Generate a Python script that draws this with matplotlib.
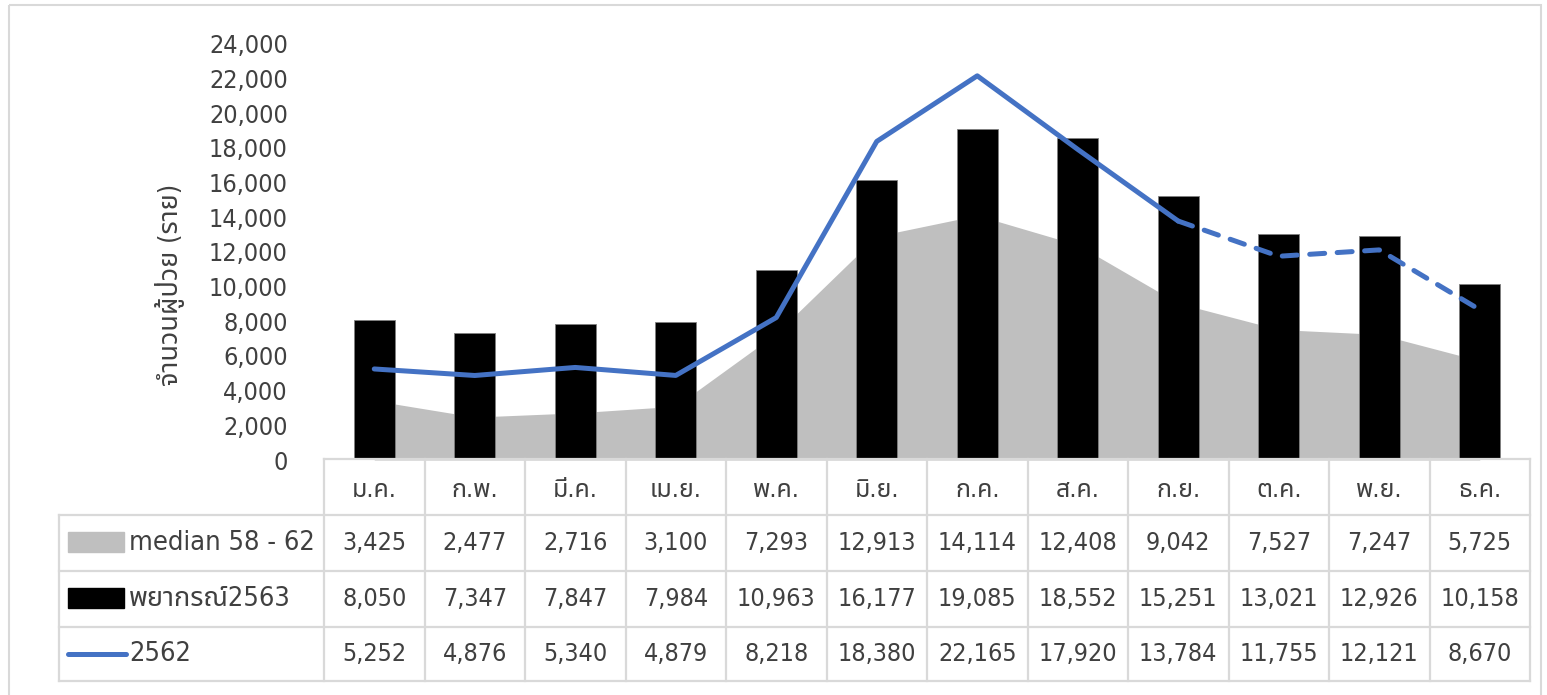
import matplotlib
matplotlib.use("Agg")
import matplotlib.pyplot as plt
from matplotlib import font_manager as fm
from matplotlib.lines import Line2D
from matplotlib.patches import Rectangle
import numpy as np

# ---------------- data ----------------
months = ["ม.ค.", "ก.พ.", "มี.ค.", "เม.ย.", "พ.ค.", "มิ.ย.", "ก.ค.", "ส.ค.", "ก.ย.", "ต.ค.", "พ.ย.", "ธ.ค."]
median_58_62 = [3425, 2477, 2716, 3100, 7293, 12913, 14114, 12408, 9042, 7527, 7247, 5725]
forecast_2563 = [8050, 7347, 7847, 7984, 10963, 16177, 19085, 18552, 15251, 13021, 12926, 10158]
actual_2562 = [5252, 4876, 5340, 4879, 8218, 18380, 22165, 17920, 13784, 11755, 12121, 8670]
series_names = ["median 58 - 62", "พยากรณ์2563", "2562"]
y_ticks = list(range(0, 24001, 2000))
y_label = "จำนวนผู้ป่วย (ราย)"
solid_until = 8  # index of last solid point (ก.ย.)

# ---------------- fonts ----------------
names = {f.name for f in fm.fontManager.ttflist}
thai_candidates = ["Noto Sans Thai", "Sarabun", "TH Sarabun New", "Loma", "Garuda", "Norasi",
                   "Tlwg Typist", "Kinnari", "Waree", "Leelawadee UI", "Tahoma", "FreeSans"]
fam = [n for n in thai_candidates if n in names]
condensed = [f.name for f in fm.fontManager.ttflist
             if str(f.stretch) in ("condensed", "semi-condensed", "extra-condensed") and f.style == "normal"]
base = []
for n in ["Liberation Sans Narrow", "DejaVu Sans", "Roboto Condensed", "Open Sans Condensed", "Noto Sans"]:
    if n in condensed or n == "Liberation Sans Narrow" and n in names:
        base.append(n)
        break
families = base + fam + ["DejaVu Sans"]
plt.rcParams["font.family"] = families
plt.rcParams["font.stretch"] = "condensed" if base else "normal"
FS = 18 if base else 16
TXT = "#404040"

W, H = 1547, 695
fig = plt.figure(figsize=(W / 100, H / 100), dpi=100)

def fx(px):
    return px / W

def fy(py):
    return 1 - py / H

# plot area
left_px, right_px = 324, 1530
zero_px, top_px = 460, 44
ax = fig.add_axes([fx(left_px), fy(zero_px), fx(right_px - left_px), fy(top_px) - fy(zero_px)])
x = np.arange(len(months))
ax.fill_between(x, median_58_62, 0, color="#BFBFBF", linewidth=0, zorder=1)
ax.bar(x, forecast_2563, width=0.41, color="black", edgecolor="#808080", linewidth=0.6, zorder=2)
ax.plot(x[:solid_until + 1], actual_2562[:solid_until + 1], color="#4472C4", lw=3.6,
        solid_capstyle="round", solid_joinstyle="round", zorder=3)
ax.plot(x[solid_until:], actual_2562[solid_until:], color="#4472C4", lw=3.6,
        dashes=(3.0, 2.5), dash_capstyle="round", zorder=3)
ax.set_xlim(-0.5, len(months) - 0.5)
ax.set_ylim(0, 24000)
ax.set_yticks(y_ticks)
ax.set_yticklabels([f"{v:,}" for v in y_ticks], fontsize=FS, color=TXT)
ax.tick_params(axis="y", length=0, pad=26)
ax.set_xticks([])
for s in ax.spines.values():
    s.set_visible(False)
ax.patch.set_alpha(0)
fig.text(fx(170), fy(285), y_label, rotation=90, ha="center", va="center",
         fontsize=FS + 1.5, color=TXT)

# ---------------- data table ----------------
ov = fig.add_axes([0, 0, 1, 1])
ov.set_xlim(0, W)
ov.set_ylim(H, 0)
ov.axis("off")
ov.patch.set_alpha(0)

lc = "#D9D9D9"
col_edges = np.linspace(left_px, right_px, len(months) + 1)
row_edges = [459, 515, 571, 627, 681]
legend_left = 59
# outer frame
ov.add_patch(Rectangle((9, 5), 1532, 700, fill=False, edgecolor="#D9D9D9", lw=1.5))
# horizontal lines
ov.plot([left_px, right_px], [row_edges[0]] * 2, color=lc, lw=1.6)
for r in row_edges[1:]:
    ov.plot([legend_left, right_px], [r, r], color=lc, lw=1.6)
# vertical lines
ov.plot([legend_left] * 2, [row_edges[1], row_edges[-1]], color=lc, lw=1.6)
for c in col_edges:
    ov.plot([c, c], [row_edges[0], row_edges[-1]], color=lc, lw=1.6)

centers = (col_edges[:-1] + col_edges[1:]) / 2
row_c = [(row_edges[i] + row_edges[i + 1]) / 2 for i in range(4)]
for cx, m in zip(centers, months):
    ov.text(cx, row_c[0] + 3, m, ha="center", va="center", fontsize=FS, color=TXT)
for ri, vals in enumerate([median_58_62, forecast_2563, actual_2562]):
    for cx, v in zip(centers, vals):
        ov.text(cx, row_c[ri + 1], f"{v:,}", ha="center", va="center", fontsize=FS, color=TXT)

# legend keys
ov.add_patch(Rectangle((68, 532), 56, 20, color="#BFBFBF"))
ov.add_patch(Rectangle((68, 588), 56, 20, color="black"))
ov.add_line(Line2D([68, 126], [654, 654], color="#4472C4", lw=3.6, solid_capstyle="round"))
for ri, nm in enumerate(series_names):
    ov.text(129, row_c[ri + 1], nm, ha="left", va="center", fontsize=FS + 1.5, color=TXT)

fig.savefig("out.png", dpi=100, facecolor="white")
